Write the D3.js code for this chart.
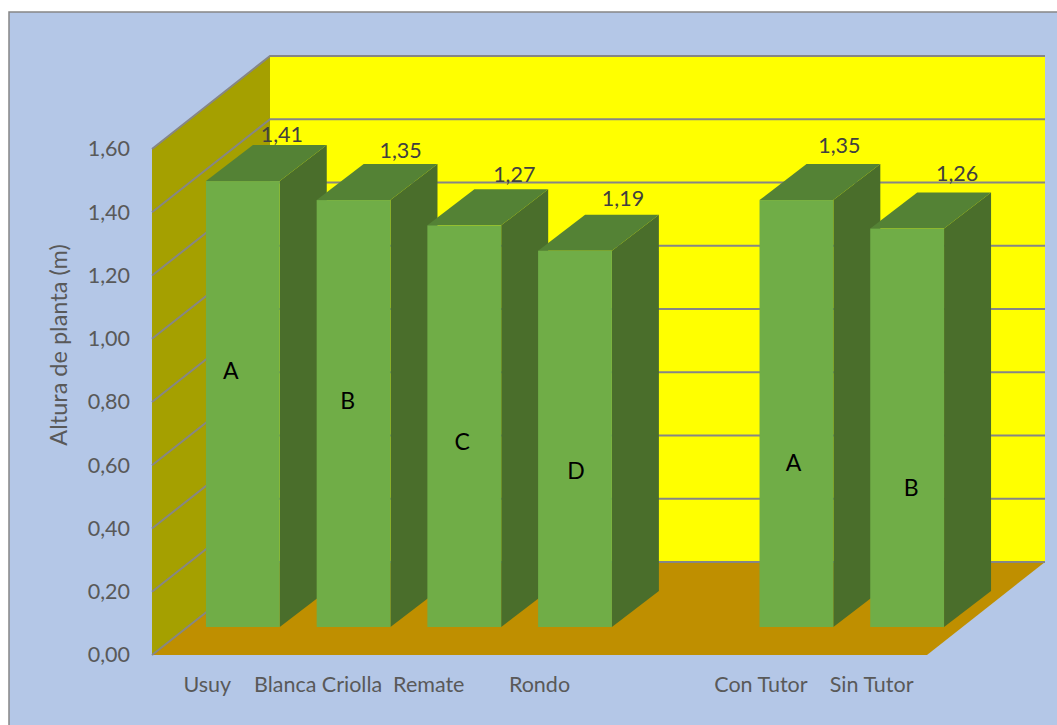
<!DOCTYPE html>
<html><head><meta charset="utf-8">
<script src="https://cdn.jsdelivr.net/npm/d3@7"></script>
<style>html,body{margin:0;padding:0;background:#fff}svg{display:block}text{font-family:Lato,"Open Sans",sans-serif}</style>
</head><body><svg id="c" width="1057" height="725"></svg>
<script>
const categories = ["Usuy","Blanca Criolla","Remate","Rondo"," ","Con Tutor","Sin Tutor"];
const values = [1.41,1.35,1.27,1.19,null,1.35,1.26];
const letters = ["A","B","C","D",null,"A","B"];
const letterLevels = [0.81,0.715,0.585,0.495,null,0.52,0.44];
const letterShift = [-12,-6,-2,1,0,-3,4];
const labelShiftX = [-8,0,3,1,0,-4,3];
const labelShiftY = [-3,-6,-7,-9,0,-11,-12];
const ticks = [0,0.2,0.4,0.6,0.8,1.0,1.2,1.4,1.6];
const fmt = v => d3.format(".2f")(v).replace(".",",");

const svg = d3.select("#c");
const chartBox = {x:9,y:12};
const plot = {l:152,r:927,t:149,b:655,dx:118,dy:93};
const barDepth = {x:47,y:36,fx:35.5,fy:28};

const x = d3.scaleBand().domain(d3.range(categories.length)).range([plot.l,plot.r]).paddingInner(1/3).paddingOuter(1/6);
const xc = d3.scaleBand().domain(d3.range(categories.length)).range([plot.l,plot.r]);
const y = d3.scaleLinear().domain([0,1.6]).range([plot.b,plot.t]);
const poly = p => p.map(a=>a.join(",")).join(" ");

svg.append("rect").attr("x",chartBox.x).attr("y",chartBox.y).attr("width",1057).attr("height",725)
  .attr("fill","#B4C7E7").attr("stroke","#868686").attr("stroke-width",1.5);

// walls and floor
svg.append("polygon").attr("fill","#FFFF00").attr("points",poly([[plot.l+plot.dx,plot.t-plot.dy],[plot.r+plot.dx,plot.t-plot.dy],[plot.r+plot.dx,plot.b-plot.dy],[plot.l+plot.dx,plot.b-plot.dy]]));
svg.append("polygon").attr("fill","#A5A000").attr("points",poly([[plot.l,plot.t],[plot.l+plot.dx,plot.t-plot.dy],[plot.l+plot.dx,plot.b-plot.dy],[plot.l,plot.b]]));
svg.append("polygon").attr("fill","#BF8F00").attr("points",poly([[plot.l,plot.b],[plot.r,plot.b],[plot.r+plot.dx,plot.b-plot.dy],[plot.l+plot.dx,plot.b-plot.dy]]));

// gridlines
const grid = svg.append("g").attr("fill","none").attr("stroke","#868686").attr("stroke-width",2);
ticks.forEach(t=>{
  grid.append("polyline").attr("points",poly([[plot.l,y(t)],[plot.l+plot.dx,y(t)-plot.dy],[plot.r+plot.dx,y(t)-plot.dy]]));
});

// bars
const bars = svg.append("g").selectAll("g").data(values.map((v,i)=>({v,i})).filter(d=>d.v!==null)).join("g");
const base = y(0)-barDepth.fy;
const unit = y(0)-y(1);
const bx = d=>x(d.i)+barDepth.fx;
const topY = d=>base-d.v*unit;
bars.append("polygon").attr("fill","#4A6E2B").attr("points",d=>{const r=bx(d)+x.bandwidth();return poly([[r,topY(d)],[r+barDepth.x,topY(d)-barDepth.y],[r+barDepth.x,base-barDepth.y],[r,base]]);});
bars.append("polygon").attr("fill","#548235").attr("points",d=>{const l=bx(d),r=l+x.bandwidth();return poly([[l,topY(d)],[r,topY(d)],[r+barDepth.x,topY(d)-barDepth.y],[l+barDepth.x,topY(d)-barDepth.y]]);});
bars.append("rect").attr("fill","#70AD47").attr("x",bx).attr("y",topY).attr("width",x.bandwidth()).attr("height",d=>d.v*unit);

// value labels
bars.append("text").attr("font-size",21.5).attr("fill","#404040").attr("text-anchor","middle")
  .attr("x",d=>bx(d)+x.bandwidth()/2+barDepth.x+labelShiftX[d.i])
  .attr("y",d=>topY(d)-barDepth.y+labelShiftY[d.i])
  .text(d=>fmt(d.v));

// letters
bars.append("text").attr("font-size",23).attr("fill","#000").attr("text-anchor","middle").attr("dy","0.36em")
  .attr("x",d=>bx(d)+x.bandwidth()/2+letterShift[d.i])
  .attr("y",d=>base-letterLevels[d.i]*unit)
  .text(d=>letters[d.i]);

// axes
const ay = svg.append("g").attr("transform",`translate(${plot.l-22},0)`)
  .call(d3.axisLeft(y).tickValues(ticks).tickFormat(fmt).tickSize(0).tickPadding(0));
ay.select(".domain").remove();
ay.selectAll("text").attr("font-size",21.5).attr("fill","#595959").style("font-family","Lato");
const ax = svg.append("g").attr("transform",`translate(0,${plot.b+22})`)
  .call(d3.axisBottom(xc).tickFormat(i=>categories[i]).tickSize(0).tickPadding(0));
ax.select(".domain").remove();
ax.selectAll("text").attr("font-size",21.5).attr("fill","#595959").style("font-family","Lato");

svg.append("text").attr("transform","translate(67,345) rotate(-90)").attr("text-anchor","middle")
  .attr("font-size",23.5).attr("fill","#595959").text("Altura de planta (m)");
</script></body></html>
